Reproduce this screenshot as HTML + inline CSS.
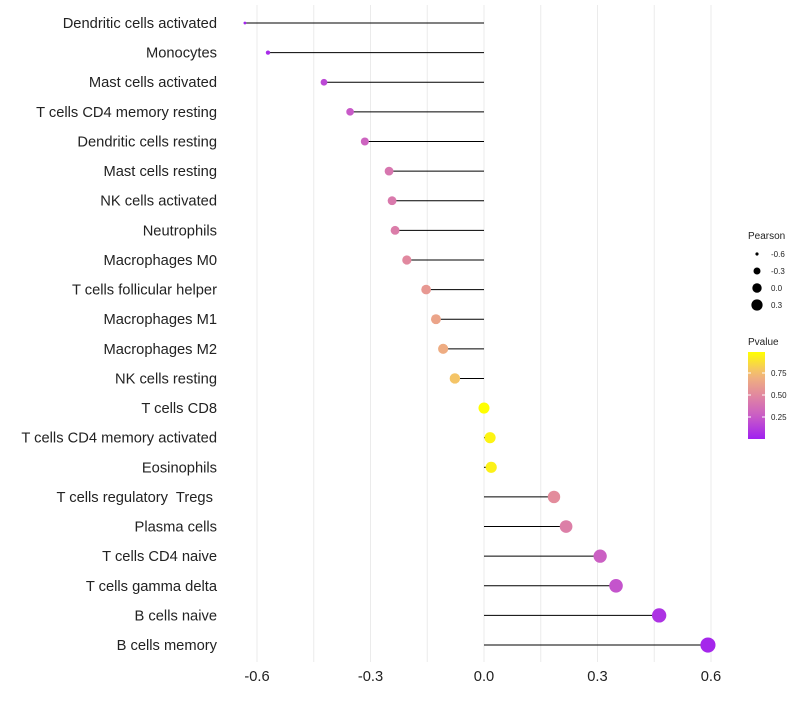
<!DOCTYPE html>
<html><head><meta charset="utf-8"><style>
body{margin:0;background:#fff;font-family:"Liberation Sans",sans-serif}
text{white-space:pre}
</style></head><body>
<svg id="chart" width="800" height="700" xmlns="http://www.w3.org/2000/svg"></svg>
<script>
const categories=["Dendritic cells activated","Monocytes","Mast cells activated","T cells CD4 memory resting","Dendritic cells resting","Mast cells resting","NK cells activated","Neutrophils","Macrophages M0","T cells follicular helper","Macrophages M1","Macrophages M2","NK cells resting","T cells CD8","T cells CD4 memory activated","Eosinophils","T cells regulatory  Tregs ","Plasma cells","T cells CD4 naive","T cells gamma delta","B cells naive","B cells memory"];
const pearson=[-0.632,-0.571,-0.423,-0.354,-0.315,-0.251,-0.243,-0.235,-0.204,-0.153,-0.127,-0.108,-0.077,0.0,0.016,0.019,0.185,0.217,0.307,0.349,0.463,0.592];
const pvalues=[0.02,0.05,0.17,0.25,0.3,0.4,0.42,0.44,0.5,0.58,0.64,0.68,0.78,0.99,0.95,0.94,0.52,0.45,0.28,0.22,0.08,0.03];
const xTicks=[-0.6,-0.3,0.0,0.3,0.6];
const sizeLegend=[-0.6,-0.3,0.0,0.3];
const colorTicks=[0.25,0.5,0.75];

const NS="http://www.w3.org/2000/svg";
const svg=document.getElementById('chart');
function el(t,a,p){const e=document.createElementNS(NS,t);for(const k in a)e.setAttribute(k,a[k]);(p||svg).appendChild(e);return e;}
const xs=v=>484+v*378.3;
const ys=i=>23+i*29.62;
const rs=v=>Math.sqrt(2+45*Math.max(0,v+0.632));
function lerp(a,b,t){return a.map((x,i)=>Math.round(x+(b[i]-x)*t));}
function col(p){const stops=[[160,32,240],[200,90,200],[225,135,160],[242,185,120],[255,255,0]];
 let t=Math.min(1,Math.max(0,p/0.99))*4;const i=Math.min(3,Math.floor(t));const c=lerp(stops[i],stops[i+1],t-i);return `rgb(${c})`;}

[-0.6,-0.45,-0.3,-0.15,0,0.15,0.3,0.45,0.6].forEach(v=>{
 const g=el('line',{x1:xs(v),x2:xs(v),y1:5,y2:662,stroke:'#ebebeb','stroke-width':1});
 
 
});
xTicks.forEach(v=>{
 const t=el('text',{x:xs(v),y:681,'text-anchor':'middle','font-size':14.7,fill:'#222'});
 t.textContent=v.toFixed(1);
 
 
});
categories.forEach((c,i)=>{
 const t=el('text',{x:217,y:ys(i)+5,'text-anchor':'end','font-size':14.7,fill:'#222'});
 t.textContent=c;
 
 
 const l=el('line',{x1:xs(0),x2:xs(pearson[i]),y1:ys(i),y2:ys(i),stroke:'#000','stroke-width':1});
 
 
 const d=el('circle',{cx:xs(pearson[i]),cy:ys(i),r:rs(pearson[i]),fill:col(pvalues[i])});
 
 
});
const lt=el('text',{x:748,y:239,'font-size':10,fill:'#222'});lt.textContent='Pearson';


sizeLegend.forEach((v,i)=>{
 const y=254+i*17;
 const c=el('circle',{cx:757,cy:y,r:rs(v)*0.85,fill:'#000'});
 
 
 const t=el('text',{x:771,y:y+3,'font-size':8,fill:'#222'});t.textContent=v.toFixed(1);
 
 
});
const ct=el('text',{x:748,y:345,'font-size':10,fill:'#222'});ct.textContent='Pvalue';


const defs=el('defs',{});const gr=el('linearGradient',{id:'pg',x1:0,y1:1,x2:0,y2:0},defs);
for(let k=0;k<=10;k++){el('stop',{offset:k/10,'stop-color':col(k/10*0.99)},gr);}
const bar=el('rect',{x:748,y:352,width:17,height:87,fill:'url(#pg)'});


colorTicks.forEach(v=>{
 const y=439-v*88;
 el('line',{x1:748,x2:751,y1:y,y2:y,stroke:'#fff'});el('line',{x1:762,x2:765,y1:y,y2:y,stroke:'#fff'});
 const t=el('text',{x:771,y:y+3,'font-size':8,fill:'#222'});t.textContent=v.toFixed(2);
 
 
});
</script>
</body></html>
